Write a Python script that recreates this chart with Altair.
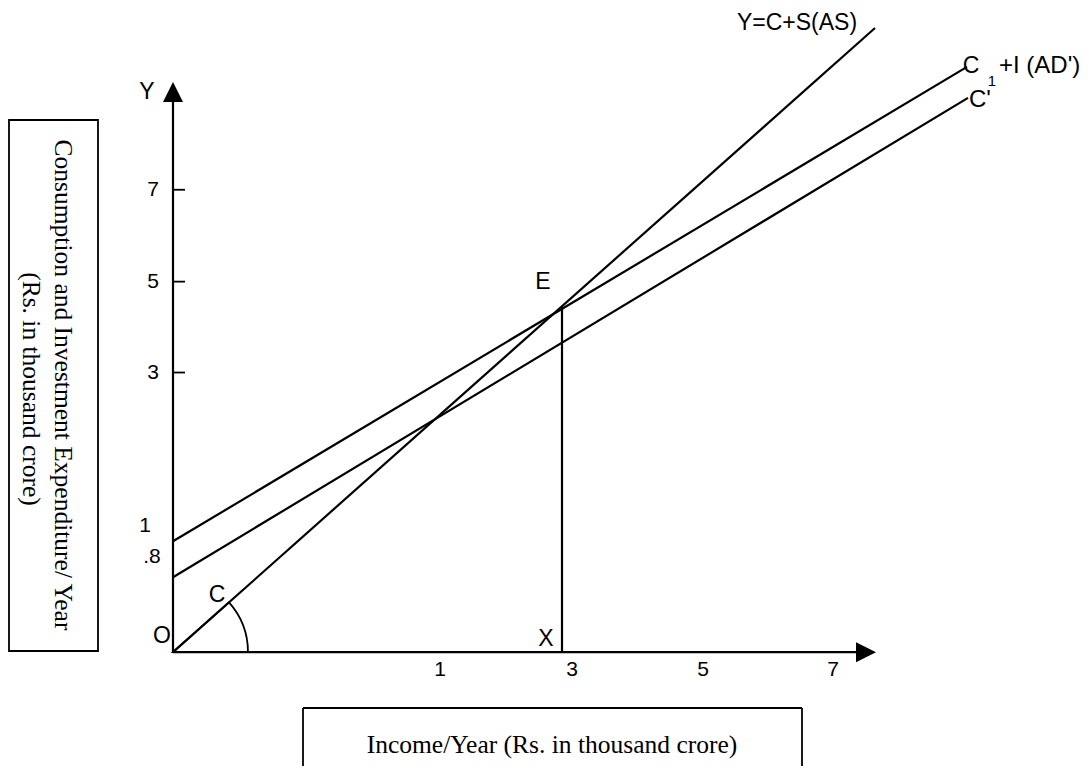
import altair as alt
import pandas as pd

# Diagram units: x = distance right of origin O, y = distance above origin O
# Straight lines of the diagram (two end points each)
as_x, as_y = [0, 702], [0, 625]          # Y = C + S (AS)
ad_x, ad_y = [0, 794], [111, 586]        # C1 + I (AD')
cp_x, cp_y = [0, 795], [75, 555]         # C'
ex_x, ex_y = [389, 389], [0, 346]        # E -> X
xax_x, xax_y = [0, 683], [0, 0]          # income axis
yax_x, yax_y = [0, 0], [0, 552]          # expenditure axis

# Tick labels
xtick_labels = ["1", "3", "5", "7"]
xtick_pos = [267, 399, 530, 660]
ytick_labels = ["7", "5", "3"]
ytick_pos = [463, 371, 280]
yint_labels = ["1", ".8"]
yint_pos = [126, 95]

# Point labels
pt_labels = ["Y", "O", "C", "E", "X"]
pt_x = [-26, -11, 44, 370, 373]
pt_y = [561, 16, 57, 371, 13]

W, H = 1076, 758
xs = alt.Scale(domain=[-165, W - 165], nice=False, zero=False)
ys = alt.Scale(domain=[-113, 645], nice=False, zero=False)

def X(f="x"):
    return alt.X(f"{f}:Q", scale=xs, axis=None)

def Y(f="y"):
    return alt.Y(f"{f}:Q", scale=ys, axis=None)

segs = []
for name, xx, yy in [("AS", as_x, as_y), ("AD", ad_x, ad_y), ("CP", cp_x, cp_y),
                     ("EX", ex_x, ex_y), ("XA", xax_x, xax_y), ("YA", yax_x, yax_y)]:
    for i, (a, b) in enumerate(zip(xx, yy)):
        segs.append({"s": name, "o": i, "x": a, "y": b})
seg_df = pd.DataFrame(segs)

lines = alt.Chart(seg_df).mark_line(color="black", strokeWidth=2.2).encode(
    x=X(), y=Y(), detail="s:N", order="o:Q")

# arrow heads at the ends of the axes
up = pd.DataFrame({"x": [yax_x[1]], "y": [yax_y[1] + 9]})
right = pd.DataFrame({"x": [xax_x[1] + 10], "y": [xax_y[1]]})
arr_up = alt.Chart(up).mark_point(shape="M0,-1L1,1L-1,1Z", filled=True, size=400,
                                  color="black", opacity=1).encode(x=X(), y=Y())
arr_right = alt.Chart(right).mark_point(shape="M1,0L-1,-1L-1,1Z", filled=True, size=400,
                                        color="black", opacity=1).encode(x=X(), y=Y())

# angle arc at the origin
orig = pd.DataFrame({"x": [0], "y": [0]})
arc = alt.Chart(orig).mark_arc(theta=0.8434, theta2=1.5708, radius=75, fillOpacity=0,
                               stroke="black", strokeWidth=1.8).encode(x=X(), y=Y())

# y ticks (pointing into the plot)
yt_df = pd.DataFrame({"y": ytick_pos, "t": ytick_labels})
yticks = alt.Chart(yt_df).mark_rule(color="black", strokeWidth=1.8).encode(
    x=alt.value(165), x2=alt.value(177), y=Y())
ytick_text = alt.Chart(yt_df).mark_text(font="Liberation Sans", fontSize=21, color="black").encode(
    x=alt.value(145), y=Y(), text="t:N")

yi_df = pd.DataFrame({"y": yint_pos, "t": yint_labels, "x": [-28, -21]})
yint_text = alt.Chart(yi_df).mark_text(font="Liberation Sans", fontSize=21, color="black").encode(
    x=X(), y=Y(), text="t:N")

xt_df = pd.DataFrame({"x": xtick_pos, "t": xtick_labels})
xtick_text = alt.Chart(xt_df).mark_text(font="Liberation Sans", fontSize=21, color="black").encode(
    x=X(), y=alt.value(662), text="t:N")

pt_df = pd.DataFrame({"x": pt_x, "y": pt_y, "t": pt_labels})
pt_text = alt.Chart(pt_df).mark_text(font="Liberation Sans", fontSize=23, color="black").encode(
    x=X(), y=Y(), text="t:N")

# curve labels
lab_df = pd.DataFrame({"x": [624, 798], "y": [630, 587], "t": ["Y=C+S(AS)", "C"]})
lab_text = alt.Chart(lab_df).mark_text(font="Liberation Sans", fontSize=23, color="black").encode(
    x=X(), y=Y(), text="t:N")
lab2_df = pd.DataFrame({"x": [826, 796], "y": [587, 553], "t": ["+I (AD')", "C'"]})
lab2_text = alt.Chart(lab2_df).mark_text(font="Liberation Sans", fontSize=24, color="black",
                                         align="left").encode(x=X(), y=Y(), text="t:N")
sub_df = pd.DataFrame({"x": [819], "y": [572], "t": ["1"]})
sub_text = alt.Chart(sub_df).mark_text(font="Liberation Sans", fontSize=15, color="black").encode(
    x=X(), y=Y(), text="t:N")

# axis title boxes
one = pd.DataFrame({"a": [0]})
ybox = alt.Chart(one).mark_rect(fillOpacity=0, stroke="black", strokeWidth=1.8).encode(
    x=alt.value(1), x2=alt.value(90), y=alt.value(112), y2=alt.value(643))
ytitle_df = pd.DataFrame({"t": ["Consumption and Investment Expenditure/ Year",
                                "(Rs. in thousand crore)"],
                          "px": [55, 23], "py": [377, 381]})
ytitle = alt.Chart(ytitle_df).mark_text(font="Liberation Serif", fontSize=25.5, angle=90,
                                        color="black").encode(
    x=alt.X("px:Q", scale=None), y=alt.Y("py:Q", scale=None), text="t:N")

xbox_top = alt.Chart(one).mark_rule(color="black", strokeWidth=1.8).encode(
    x=alt.value(295), x2=alt.value(794), y=alt.value(700))
xbox_l = alt.Chart(one).mark_rule(color="black", strokeWidth=1.8).encode(
    x=alt.value(295), y=alt.value(700), y2=alt.value(H))
xbox_r = alt.Chart(one).mark_rule(color="black", strokeWidth=1.8).encode(
    x=alt.value(794), y=alt.value(700), y2=alt.value(H))
xtitle = alt.Chart(pd.DataFrame({"t": ["Income/Year (Rs. in thousand crore)"]})).mark_text(
    font="Liberation Serif", fontSize=25.5, color="black", baseline="alphabetic").encode(
    x=alt.value(544), y=alt.value(745), text="t:N")

chart = alt.layer(
    lines, arr_up, arr_right, arc, yticks, ytick_text, yint_text, xtick_text, pt_text,
    lab_text, lab2_text, sub_text, ybox, ytitle, xbox_top, xbox_l, xbox_r, xtitle
).properties(
    width=W, height=H, padding=0,
    autosize=alt.AutoSizeParams(type="fit", contains="padding"),
    background="white"
).configure_view(stroke=None)

chart.save("out.html", embed_options={"renderer": "svg", "actions": False})
